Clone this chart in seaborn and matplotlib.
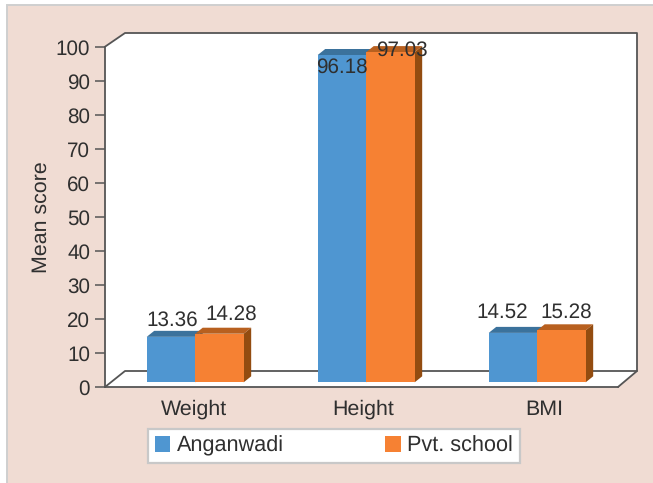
import pandas as pd
import matplotlib.pyplot as plt
import seaborn as sns
from matplotlib.patches import Polygon, Rectangle, Patch
from matplotlib.lines import Line2D
from matplotlib.transforms import Affine2D, IdentityTransform

# data
categories = ['Weight', 'Height', 'BMI']
anganwadi = [13.36, 96.18, 14.52]
pvt_school = [14.28, 97.03, 15.28]
series_names = ['Anganwadi', 'Pvt. school']
y_ticks = [0, 10, 20, 30, 40, 50, 60, 70, 80, 90, 100]

# colours
panel_col = '#f0dcd3'
border_col = '#cfcfcf'
line_col = '#555555'
text_col = '#2f2f2f'
front_cols = ['#4f96d1', '#f68133']
top_cols = ['#3b729c', '#b8601f']
side_cols = ['#2f5f85', '#934c10']

# label offsets from the top middle of each bar front, in pixels
label_offsets = [
    [(1, 11), (0, -18), (-11, 15)],
    [(12, 14), (11, -4), (5, 13)],
]
# the category labels are not quite centred under their bars
xlabel_nudge = [-1.5, -3.5, 7]

sns.set_style('ticks')
plt.rcParams['font.family'] = ['Liberation Sans', 'DejaVu Sans']
plt.rcParams['text.hinting'] = 'no_hinting'

W, H = 653, 483
fig = plt.figure(figsize=(W / 100, H / 100), dpi=100, facecolor='white')
ax = fig.add_axes([105 / W, (H - 387) / H, 513 / W, 340.3 / H])
ax.set_facecolor('none')

# background panel
fig.add_artist(Rectangle((6.5 / W, -0.1), 1, 1.1 - 5.5 / H, transform=fig.transFigure,
                         facecolor=panel_col, edgecolor=border_col, linewidth=1.4, zorder=-1))

df = pd.DataFrame({
    'category': categories * 2,
    'score': anganwadi + pvt_school,
    'group': [series_names[0]] * 3 + [series_names[1]] * 3,
})
sns.barplot(data=df, x='category', y='score', hue='group', palette=front_cols,
            width=0.567, gap=0, legend=False, saturation=1, ax=ax, zorder=1)

ax.set_xlim(-0.5, 2.5)
ax.set_ylim(0, 100)
ax.set_yticks(y_ticks)

# 3d box: back wall and floor, taken from the axes corners
depth_x, depth_y = 20, 16
x0, y0 = ax.transAxes.transform((0, 0))
x1, y1 = ax.transAxes.transform((1, 1))
bx0, by0, bx1, by1 = x0 + depth_x, y0 + depth_y, x1 + depth_x - 1, y1 + 13.7
ident = IdentityTransform()
ax.add_patch(Polygon([(x0, y0), (x1, y0), (bx1, by0), (bx1, by1), (bx0, by1), (x0, y1)],
                     closed=True, facecolor='white', edgecolor='none',
                     transform=ident, clip_on=False, zorder=0))
box_lines = [
    [(x0, y1), (bx0, by1), (bx1, by1), (bx1, by0), (bx0, by0), (x0, y0)],
    [(x1, y0), (bx1, by0)],
]
for pts in box_lines:
    xs, ys = zip(*pts)
    ax.add_line(Line2D(xs, ys, color=line_col, linewidth=1.3, transform=ident,
                       clip_on=False, zorder=0.5))

# bars sit a little inside the box, then get a top and a side face
shift_x, shift_y = 4.7, 4.7
bar_dx, bar_dy = 7.5, 6
shift = ax.transData + Affine2D().translate(shift_x, shift_y)
for i, container in enumerate(ax.containers):
    for j, bar in enumerate(container):
        bar.set_transform(shift)
        bar.set_edgecolor('none')
        bar.set_clip_on(False)
        x_l = bar.get_x()
        x_r = x_l + bar.get_width()
        val = bar.get_height()
        (px_l, py_b), (px_r, py_t) = shift.transform([(x_l, 0), (x_r, val)])
        ax.add_patch(Polygon([(px_l, py_t), (px_r, py_t), (px_r + bar_dx, py_t + bar_dy),
                              (px_l + bar_dx, py_t + bar_dy)], closed=True,
                             facecolor=top_cols[i], edgecolor='none', transform=ident,
                             clip_on=False, zorder=0.9))
        ax.add_patch(Polygon([(px_r, py_b), (px_r + bar_dx, py_b + bar_dy),
                              (px_r + bar_dx, py_t + bar_dy), (px_r, py_t)], closed=True,
                             facecolor=side_cols[i], edgecolor='none', transform=ident,
                             clip_on=False, zorder=0.9))
        dx, dy = label_offsets[i][j]
        ax.annotate(f'{val:.2f}', xy=((px_l + px_r) / 2 + dx, py_t + dy), xycoords=ident,
                    ha='center', va='baseline', fontsize=14.9, color=text_col,
                    annotation_clip=False, zorder=4)

# axes styling
sns.despine(ax=ax, top=True, right=True)
for s in ['left', 'bottom']:
    ax.spines[s].set_color(line_col)
    ax.spines[s].set_linewidth(1.3)
ax.tick_params(axis='y', length=7.2, width=1.1, color=line_col, pad=3.6,
               labelsize=14.9, labelcolor=text_col)
ax.tick_params(axis='x', length=0, pad=9, labelsize=15.4, labelcolor=text_col)
ax.set_xlabel('')
ax.set_ylabel('Mean score', fontsize=15.4, color=text_col, labelpad=3.5)

# x labels follow the bars
for lab, nudge in zip(ax.get_xticklabels(), xlabel_nudge):
    lab.set_transform(lab.get_transform() + Affine2D().translate(shift_x + nudge, 0))

handles = [Patch(facecolor=front_cols[k], edgecolor='none', label=series_names[k])
           for k in range(2)]
leg = ax.legend(handles=handles, ncol=2, loc='lower left',
                bbox_to_anchor=(148 / W, 1 - 463 / H), bbox_transform=fig.transFigure,
                borderaxespad=0, fontsize=15.6, frameon=True, fancybox=False, framealpha=1,
                handlelength=0.7, handleheight=0.7, handletextpad=0.3, columnspacing=4.7,
                borderpad=0.32, labelcolor=text_col)
leg.get_frame().set_edgecolor('#c8c8c8')
leg.get_frame().set_linewidth(1.6)
leg.set_zorder(5)

fig.savefig('out.png', dpi=100, facecolor='white')
